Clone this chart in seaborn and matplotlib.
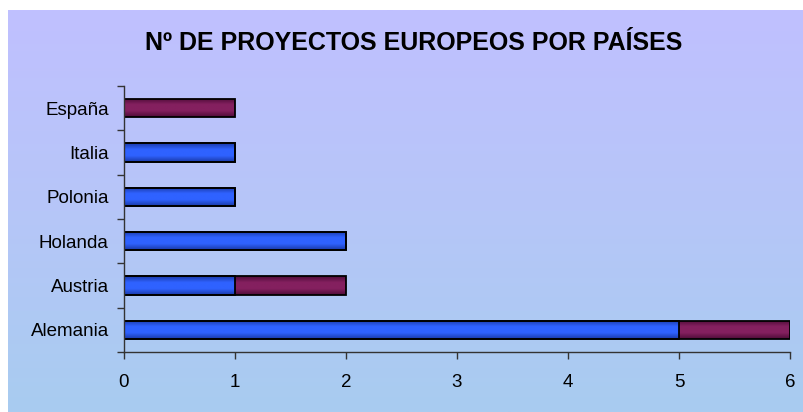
import numpy as np
import pandas as pd
import matplotlib
matplotlib.use("Agg")
import matplotlib.pyplot as plt
import seaborn as sns
from matplotlib.colors import LinearSegmentedColormap

paises = ["España", "Italia", "Polonia", "Holanda", "Austria", "Alemania"]
proyectos_azul = [0, 1, 1, 2, 1, 5]
proyectos_granate = [1, 0, 0, 0, 1, 1]
x_ticks = [0, 1, 2, 3, 4, 5, 6]

titulo = "Nº DE PROYECTOS EUROPEOS POR PAÍSES"

df = pd.DataFrame({
    "pais": paises,
    "azul": proyectos_azul,
    "granate": proyectos_granate,
})
df["total"] = df["azul"] + df["granate"]

sns.set_style("white")
plt.rcParams["font.family"] = ["Liberation Sans", "DejaVu Sans"]

fig = plt.figure(figsize=(8.04, 4.12), dpi=100)
fig.patch.set_facecolor("white")

# gradient background panel
bg = fig.add_axes([8 / 804, 0, 796 / 804, 402 / 412])
cmap = LinearSegmentedColormap.from_list("bg", ["#A8CCF0", "#B6C6F8", "#C0C0FF"])
bg.imshow(np.linspace(0, 1, 256).reshape(-1, 1), aspect="auto", cmap=cmap,
          origin="lower", extent=[0, 1, 0, 1])
bg.set_axis_off()

ax = fig.add_axes([124 / 804, 1 - 352 / 412, 666 / 804, 266 / 412])
ax.patch.set_alpha(0)

# total drawn in maroon, blue part on top of it
sns.barplot(data=df, x="total", y="pais", order=paises, orient="h",
            color="#7A1C58", saturation=1, width=0.42,
            edgecolor="black", linewidth=1.3, ax=ax)
n_granate = len(ax.patches)
sns.barplot(data=df[df["azul"] > 0], x="azul", y="pais", order=paises, orient="h",
            color="#2B5EF2", saturation=1, width=0.42,
            edgecolor="black", linewidth=1.3, ax=ax)

# shaded fill like the original bars (dark edges, light middle)
cmap_granate = LinearSegmentedColormap.from_list("g", ["#4E0C38", "#84205F", "#84205F", "#4E0C38"])
cmap_azul = LinearSegmentedColormap.from_list("a", ["#1A3AA8", "#2F62FF", "#2F62FF", "#1A3AA8"])
grad = np.linspace(0, 1, 64).reshape(-1, 1)
for i, p in enumerate(list(ax.patches)):
    w = p.get_width()
    if w <= 0:
        continue
    x0, y0 = p.get_x(), p.get_y()
    h = p.get_height()
    cm = cmap_granate if i < n_granate else cmap_azul
    im = ax.imshow(grad, aspect="auto", cmap=cm, extent=[x0, x0 + w, y0 + h, y0],
                   zorder=0.9 + i * 0.001, interpolation="bilinear")
    im.set_clip_path(p)
    p.set_facecolor("none")
    p.set_zorder(1 + i * 0.001)

ax.set_xlim(0, 6)
ax.set_ylim(5.5, -0.5)
ax.set_aspect("auto")
ax.set_xticks(x_ticks)
ax.set_yticks(np.arange(-0.5, 6, 1), minor=True)
ax.tick_params(axis="y", which="major", length=0, pad=11, labelsize=13.5,
               labelcolor="black", left=True)
ax.tick_params(axis="y", which="minor", length=5, width=1, color="#333333",
               direction="out", left=True)
ax.tick_params(axis="x", length=5, width=1, color="#333333", direction="out",
               pad=11, labelsize=13.5, labelcolor="black", bottom=True)
ax.set_xlabel("")
ax.set_ylabel("")
for side in ["top", "right"]:
    ax.spines[side].set_visible(False)
for side in ["left", "bottom"]:
    ax.spines[side].set_color("#333333")
    ax.spines[side].set_linewidth(1)

fig.text(0.514, 1 - 43 / 412, titulo, ha="center", va="center",
         fontsize=18, fontweight="bold", color="black")

fig.savefig("out.png", dpi=100)
